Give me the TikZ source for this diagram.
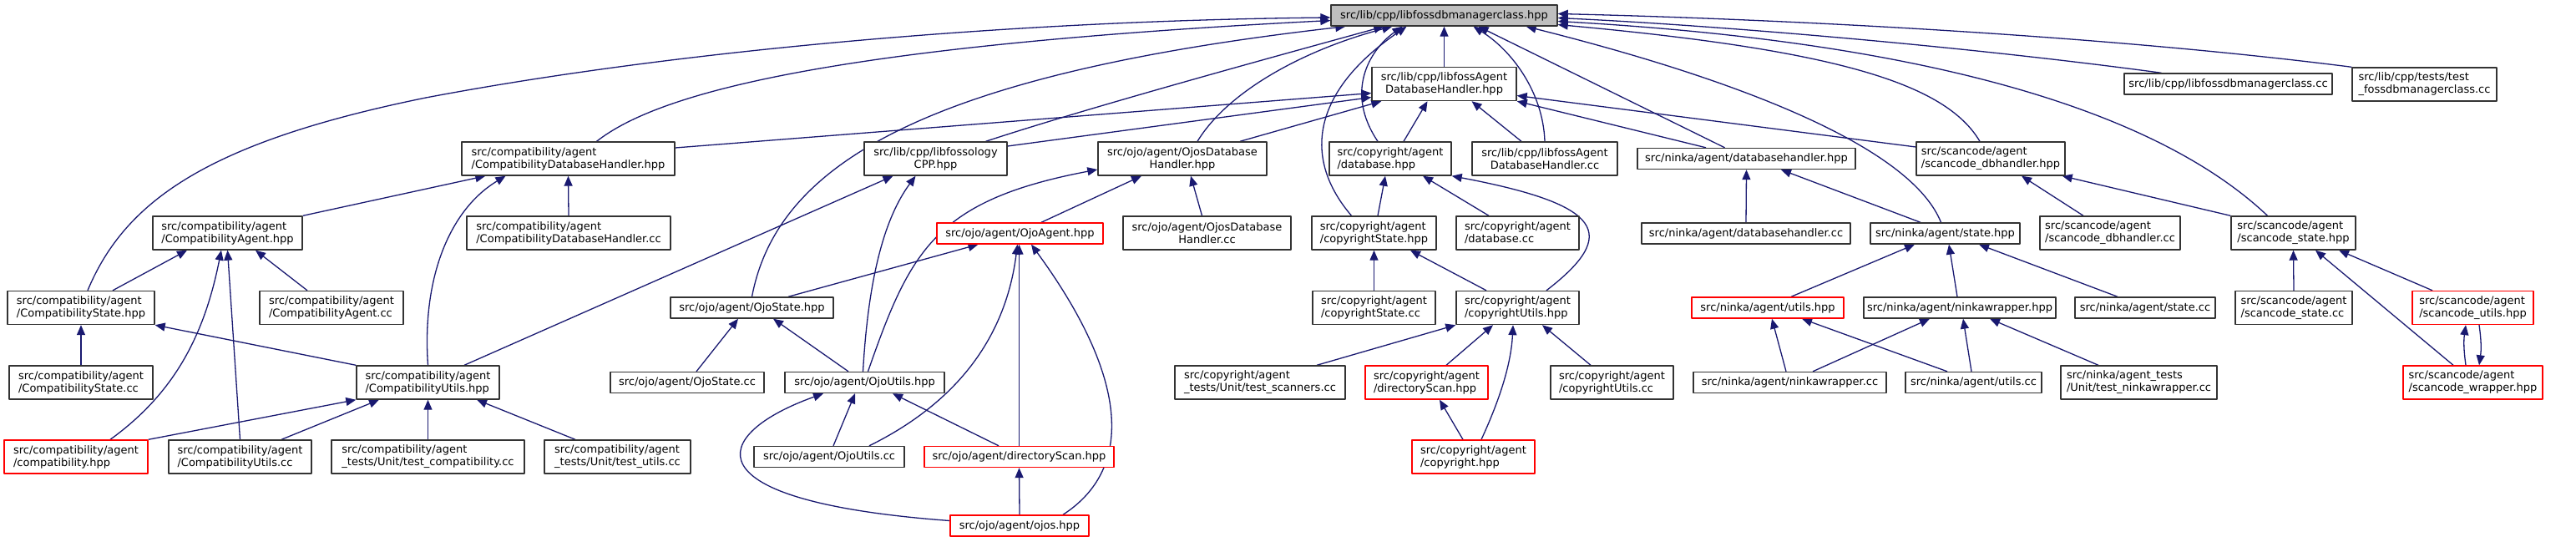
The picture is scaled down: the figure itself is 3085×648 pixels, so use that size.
\documentclass[tikz,border=0pt]{standalone}
\usepackage{fontspec}
\setmainfont{DejaVu Sans}
\usetikzlibrary{arrows.meta}
\definecolor{edgeblue}{HTML}{191970}
\pgfdeclarelayer{bg}
\pgfsetlayers{bg,main}
\begin{document}
\begin{tikzpicture}[x=1pt,y=-1pt,>={Triangle[length=12pt,width=10pt]},line join=round,
  file/.style={draw=black!80,line width=1.4pt,fill=white,inner sep=0pt,minimum height=25pt,align=left,font=\fontsize{13}{15}\selectfont},
  two/.style={minimum height=40pt},
  trunc/.style={draw=red},
  root/.style={fill=black!25},
  edge/.style={draw=edgeblue,line width=1.3pt,->}]
\useasboundingbox (0,0) rectangle (3085,648);
\node[file,root,minimum width=271pt] (top) at (1729.5,18.5) {src/lib/cpp/libfossdbmanagerclass.hpp};
\node[file,two,align=center,minimum width=173pt] (afdh) at (1729.5,100.5) {src/lib/cpp/libfossAgent\\DatabaseHandler.hpp};
\node[file,minimum width=249pt] (dbmcc) at (2668.5,100.5) {src/lib/cpp/libfossdbmanagerclass.cc};
\node[file,two,minimum width=173pt] (testdbm) at (2903.5,101) {src/lib/cpp/tests/test\\\_fossdbmanagerclass.cc};
\node[file,two,minimum width=255pt] (cdbh) at (680.5,190) {src/compatibility/agent\\/CompatibilityDatabaseHandler.hpp};
\node[file,two,align=center,minimum width=171pt] (fcpp) at (1120.5,190) {src/lib/cpp/libfossology\\CPP.hpp};
\node[file,two,align=center,minimum width=202pt] (odbh) at (1416,190) {src/ojo/agent/OjosDatabase\\Handler.hpp};
\node[file,two,minimum width=146pt] (cpdb) at (1665,190) {src/copyright/agent\\/database.hpp};
\node[file,two,align=center,minimum width=174pt] (afdhcc) at (1850,190) {src/lib/cpp/libfossAgent\\DatabaseHandler.cc};
\node[file,minimum width=261pt] (ndbh) at (2091.5,190) {src/ninka/agent/databasehandler.hpp};
\node[file,two,minimum width=178pt] (scdbh) at (2384,190) {src/scancode/agent\\/scancode\_dbhandler.hpp};
\node[file,two,minimum width=179pt] (cagent) at (272.5,279) {src/compatibility/agent\\/CompatibilityAgent.hpp};
\node[file,two,minimum width=244pt] (cdbhcc) at (681,279) {src/compatibility/agent\\/CompatibilityDatabaseHandler.cc};
\node[file,trunc,minimum width=199pt] (ojoagent) at (1221.5,279.5) {src/ojo/agent/OjoAgent.hpp};
\node[file,two,align=center,minimum width=201pt] (odbhcc) at (1445.5,279) {src/ojo/agent/OjosDatabase\\Handler.cc};
\node[file,two,minimum width=149pt] (cpstate) at (1645.5,279) {src/copyright/agent\\/copyrightState.hpp};
\node[file,two,minimum width=147pt] (cpdbcc) at (1817.5,279) {src/copyright/agent\\/database.cc};
\node[file,minimum width=250pt] (ndbhcc) at (2091,279.5) {src/ninka/agent/databasehandler.cc};
\node[file,minimum width=179pt] (nstate) at (2329.5,279.5) {src/ninka/agent/state.hpp};
\node[file,two,minimum width=168pt] (scdbhcc) at (2527,279) {src/scancode/agent\\/scancode\_dbhandler.cc};
\node[file,two,minimum width=149pt] (scstate) at (2746.5,279) {src/scancode/agent\\/scancode\_state.hpp};
\node[file,two,minimum width=176pt] (cstate) at (97,368.5) {src/compatibility/agent\\/CompatibilityState.hpp};
\node[file,two,minimum width=172pt] (cagentcc) at (397,368.5) {src/compatibility/agent\\/CompatibilityAgent.cc};
\node[file,minimum width=195pt] (ojostate) at (900.5,368.5) {src/ojo/agent/OjoState.hpp};
\node[file,two,minimum width=147pt] (cpstatecc) at (1645.5,368.5) {src/copyright/agent\\/copyrightState.cc};
\node[file,two,minimum width=147pt] (cputils) at (1817.5,368.5) {src/copyright/agent\\/copyrightUtils.hpp};
\node[file,trunc,minimum width=182pt] (nutils) at (2117,368.5) {src/ninka/agent/utils.hpp};
\node[file,minimum width=230pt] (nwrap) at (2347,368.5) {src/ninka/agent/ninkawrapper.hpp};
\node[file,minimum width=168pt] (nstatecc) at (2569,368.5) {src/ninka/agent/state.cc};
\node[file,two,minimum width=140pt] (scstatecc) at (2747,368.5) {src/scancode/agent\\/scancode\_state.cc};
\node[file,two,trunc,minimum width=145pt] (scutils) at (2961.5,368.5) {src/scancode/agent\\/scancode\_utils.hpp};
\node[file,two,minimum width=172pt] (cstatecc) at (97,458) {src/compatibility/agent\\/CompatibilityState.cc};
\node[file,two,minimum width=171pt] (cutils) at (512.5,458) {src/compatibility/agent\\/CompatibilityUtils.hpp};
\node[file,minimum width=184pt] (ojostatecc) at (823,458) {src/ojo/agent/OjoState.cc};
\node[file,minimum width=191pt] (ojoutils) at (1035.5,458) {src/ojo/agent/OjoUtils.hpp};
\node[file,two,minimum width=204pt] (cpscan) at (1509,458) {src/copyright/agent\\\_tests/Unit/test\_scanners.cc};
\node[file,two,trunc,minimum width=147pt] (cpdirscan) at (1708.5,458) {src/copyright/agent\\/directoryScan.hpp};
\node[file,two,minimum width=147pt] (cputilscc) at (1930.5,458) {src/copyright/agent\\/copyrightUtils.cc};
\node[file,minimum width=231pt] (nwrapcc) at (2143.5,458) {src/ninka/agent/ninkawrapper.cc};
\node[file,minimum width=163pt] (nutilscc) at (2363.5,458) {src/ninka/agent/utils.cc};
\node[file,two,minimum width=187pt] (ntestwrap) at (2561.5,458) {src/ninka/agent\_tests\\/Unit/test\_ninkawrapper.cc};
\node[file,two,trunc,minimum width=167pt] (scwrap) at (2961.5,458) {src/scancode/agent\\/scancode\_wrapper.hpp};
\node[file,two,trunc,minimum width=172pt] (compat) at (91,547) {src/compatibility/agent\\/compatibility.hpp};
\node[file,two,minimum width=171pt] (cutilscc) at (287.5,547) {src/compatibility/agent\\/CompatibilityUtils.cc};
\node[file,two,minimum width=231pt] (ctestcompat) at (512.5,547) {src/compatibility/agent\\\_tests/Unit/test\_compatibility.cc};
\node[file,two,minimum width=175pt] (ctestutils) at (739.5,547) {src/compatibility/agent\\\_tests/Unit/test\_utils.cc};
\node[file,minimum width=180pt] (ojoutilscc) at (993,547) {src/ojo/agent/OjoUtils.cc};
\node[file,trunc,minimum width=227pt] (ojodirscan) at (1220.5,547) {src/ojo/agent/directoryScan.hpp};
\node[file,two,trunc,minimum width=147pt] (cpcopyright) at (1764.5,547) {src/copyright/agent\\/copyright.hpp};
\node[file,trunc,minimum width=166pt] (ojos) at (1221,629.5) {src/ojo/agent/ojos.hpp};
\begin{pgfonlayer}{bg}
\draw[edge] ([xshift=8pt]cstate.north) .. controls (150,240) and (250,170) .. (510,117) .. controls (800,62) and (1200,25) .. ([yshift=-2.5pt]top.west);
\draw[edge] ([xshift=34pt]cdbh.north) .. controls (790,110) and (1000,55) .. ([yshift=-6pt]top.west);
\draw[edge] (ojostate.north) .. controls (930,200) and (1100,90) .. ([xshift=18pt]top.south west);
\draw[edge] ([xshift=60pt]fcpp.north) .. controls (1300,130) and (1500,75) .. ([xshift=64pt]top.south west);
\draw[edge] ([xshift=18pt]odbh.north) .. controls (1470,110) and (1560,60) .. ([xshift=74pt]top.south west);
\draw[edge] ([xshift=-15pt]cpdb.north) .. controls (1610,110) and (1640,60) .. ([xshift=-50pt]top.south);
\draw[edge] ([xshift=-27pt]cpstate.north) .. controls (1560,190) and (1570,110) .. ([xshift=-45pt]top.south);
\draw[edge] (afdh.north) -- (top.south);
\draw[edge] (afdhcc.north) .. controls (1848,110) and (1810,60) .. ([xshift=35pt]top.south);
\draw[edge] ([xshift=-26pt]ndbh.north) -- ([xshift=41pt]top.south);
\draw[edge] ([xshift=-5pt]nstate.north) .. controls (2290,180) and (2100,100) .. ([xshift=-38pt]top.south east);
\draw[edge] ([xshift=-13pt]scdbh.north) .. controls (2330,100) and (2200,60) .. ([yshift=-11pt]top.east);
\draw[edge] ([xshift=-31pt]scstate.north) .. controls (2580,130) and (2300,50) .. ([yshift=-7pt]top.east);
\draw[edge] ([xshift=-80pt]dbmcc.north) .. controls (2350,55) and (2050,30) .. ([yshift=-3pt]top.east);
\draw[edge] (testdbm.north west) .. controls (2500,40) and (2100,22) .. ([yshift=2pt]top.east);
\draw[edge] ([yshift=13pt]cdbh.east) -- ([yshift=-11pt]afdh.west);
\draw[edge] ([yshift=15pt]fcpp.east) -- ([yshift=-16pt]afdh.west);
\draw[edge] ([xshift=69pt]odbh.north) -- ([xshift=12pt]afdh.south west);
\draw[edge] ([xshift=16pt]cpdb.north) -- ([xshift=-20pt]afdh.south);
\draw[edge] ([xshift=-28pt]afdhcc.north) -- ([xshift=33pt]afdh.south);
\draw[edge] ([xshift=-48.5pt]ndbh.north) -- (afdh.south east);
\draw[edge] ([yshift=14pt]scdbh.west) -- ([yshift=-14pt]afdh.east);
\draw[edge] (cagent.north east) -- ([xshift=29pt]cdbh.south west);
\draw[edge] (cutils.north) .. controls (505,330) and (540,250) .. ([xshift=-75pt]cdbh.south);
\draw[edge] (cdbhcc.north) -- (cdbh.south);
\draw[edge] ([xshift=43.5pt]cutils.north) -- ([xshift=-51pt]fcpp.south);
\draw[edge] ([xshift=-2pt]ojoutils.north) .. controls (1040,330) and (1060,260) .. ([xshift=-24pt]fcpp.south);
\draw[edge] ([xshift=4pt]ojoutils.north) .. controls (1090,300) and (1120,240) .. ([yshift=-13pt]odbh.west);
\draw[edge] ([xshift=25.5pt]ojoagent.north) -- ([xshift=-49pt]odbh.south);
\draw[edge] ([xshift=-6pt]odbhcc.north) -- ([xshift=10pt]odbh.south);
\draw[edge] ([xshift=43.5pt]ojostate.north) -- ([xshift=-50pt]ojoagent.south);
\draw[edge] ([xshift=48pt]ojoutilscc.north) .. controls (1150,480) and (1205,400) .. ([xshift=-3pt]ojoagent.south);
\draw[edge] (ojodirscan.north) -- ([xshift=-1pt]ojoagent.south);
\draw[edge] ([xshift=52pt]ojos.north) .. controls (1360,560) and (1350,450) .. ([xshift=13.5pt]ojoagent.south);
\draw[edge] ([xshift=11pt]ojostatecc.north) -- ([xshift=-16.5pt]ojostate.south);
\draw[edge] ([xshift=-19.5pt]ojoutils.north) -- ([xshift=25.5pt]ojostate.south);
\draw[edge] ([yshift=6pt]ojos.west) .. controls (820,600) and (850,520) .. ([xshift=-49.5pt]ojoutils.south);
\draw[edge] ([xshift=5pt]ojoutilscc.north) -- ([xshift=-11.5pt]ojoutils.south);
\draw[edge] ([xshift=-24.5pt]ojodirscan.north) -- ([xshift=33.5pt]ojoutils.south);
\draw[edge] (ojos.north) -- (ojodirscan.south);
\draw[edge] ([xshift=38pt]cstate.north) -- ([xshift=-48.5pt]cagent.south);
\draw[edge] ([xshift=41pt]compat.north) .. controls (210,470) and (245,400) .. ([xshift=-7.5pt]cagent.south);
\draw[edge] (cutilscc.north) -- (cagent.south);
\draw[edge] ([xshift=-29pt]cagentcc.north) -- ([xshift=33.5pt]cagent.south);
\draw[edge] (cstatecc.north) -- (cstate.south);
\draw[edge] (cutils.north west) -- (cstate.south east);
\draw[edge] (compat.north east) -- (cutils.south west);
\draw[edge] ([xshift=49.5pt]cutilscc.north) -- ([xshift=-58.5pt]cutils.south);
\draw[edge] (ctestcompat.north) -- (cutils.south);
\draw[edge] ([xshift=-50.5pt]ctestutils.north) -- ([xshift=58.5pt]cutils.south);
\draw[edge] ([xshift=4.5pt]cpstate.north) -- ([xshift=-6pt]cpdb.south);
\draw[edge] ([xshift=-34.5pt]cpdbcc.north) -- ([xshift=39pt]cpdb.south);
\draw[edge] ([xshift=34.5pt]cputils.north) .. controls (1940,280) and (1920,245) .. (cpdb.south east);
\draw[edge] (cpstatecc.north) -- (cpstate.south);
\draw[edge] ([xshift=-37.5pt]cputils.north) -- ([xshift=43.5pt]cpstate.south);
\draw[edge] ([xshift=68pt]cpscan.north) -- (cputils.south west);
\draw[edge] ([xshift=23.5pt]cpdirscan.north) -- ([xshift=-29.5pt]cputils.south);
\draw[edge] ([xshift=9.5pt]cpcopyright.north) .. controls (1800,470) and (1810,430) .. ([xshift=-5.5pt]cputils.south);
\draw[edge] ([xshift=-25.5pt]cputilscc.north) -- ([xshift=29.5pt]cputils.south);
\draw[edge] ([xshift=-12.5pt]cpcopyright.north) -- ([xshift=15.5pt]cpdirscan.south);
\draw[edge] (ndbhcc.north) -- (ndbh.south);
\draw[edge] ([xshift=-29.5pt]nstate.north) -- ([xshift=41.5pt]ndbh.south);
\draw[edge] ([xshift=28pt]nutils.north) -- ([xshift=-36.5pt]nstate.south);
\draw[edge] ([xshift=-3pt]nwrap.north) -- ([xshift=4.5pt]nstate.south);
\draw[edge] ([xshift=-33pt]nstatecc.north) -- ([xshift=40.5pt]nstate.south);
\draw[edge] ([xshift=-4.5pt]nwrapcc.north) -- ([xshift=5pt]nutils.south);
\draw[edge] ([xshift=-31.5pt]nutilscc.north) -- ([xshift=41pt]nutils.south);
\draw[edge] ([xshift=27.5pt]nwrapcc.north) -- ([xshift=-36pt]nwrap.south);
\draw[edge] ([xshift=-2.5pt]nutilscc.north) -- ([xshift=4pt]nwrap.south);
\draw[edge] ([xshift=-48.5pt]ntestwrap.north) -- ([xshift=36pt]nwrap.south);
\draw[edge] ([xshift=-32pt]scdbhcc.north) -- ([xshift=37pt]scdbh.south);
\draw[edge] (scstate.north west) -- ([xshift=-4pt]scdbh.south east);
\draw[edge] (scstatecc.north) -- (scstate.south);
\draw[edge] ([xshift=-23.5pt]scwrap.north) -- ([xshift=26.5pt]scstate.south);
\draw[edge] ([xshift=-48.5pt]scutils.north) -- ([xshift=54.5pt]scstate.south);
\draw[edge] ([xshift=-8.5pt]scwrap.north) to[bend left=8] ([xshift=-8.5pt]scutils.south);
\draw[edge] ([xshift=7.5pt]scutils.south) to[bend left=8] ([xshift=7.5pt]scwrap.north);
\end{pgfonlayer}
\end{tikzpicture}
\end{document}
